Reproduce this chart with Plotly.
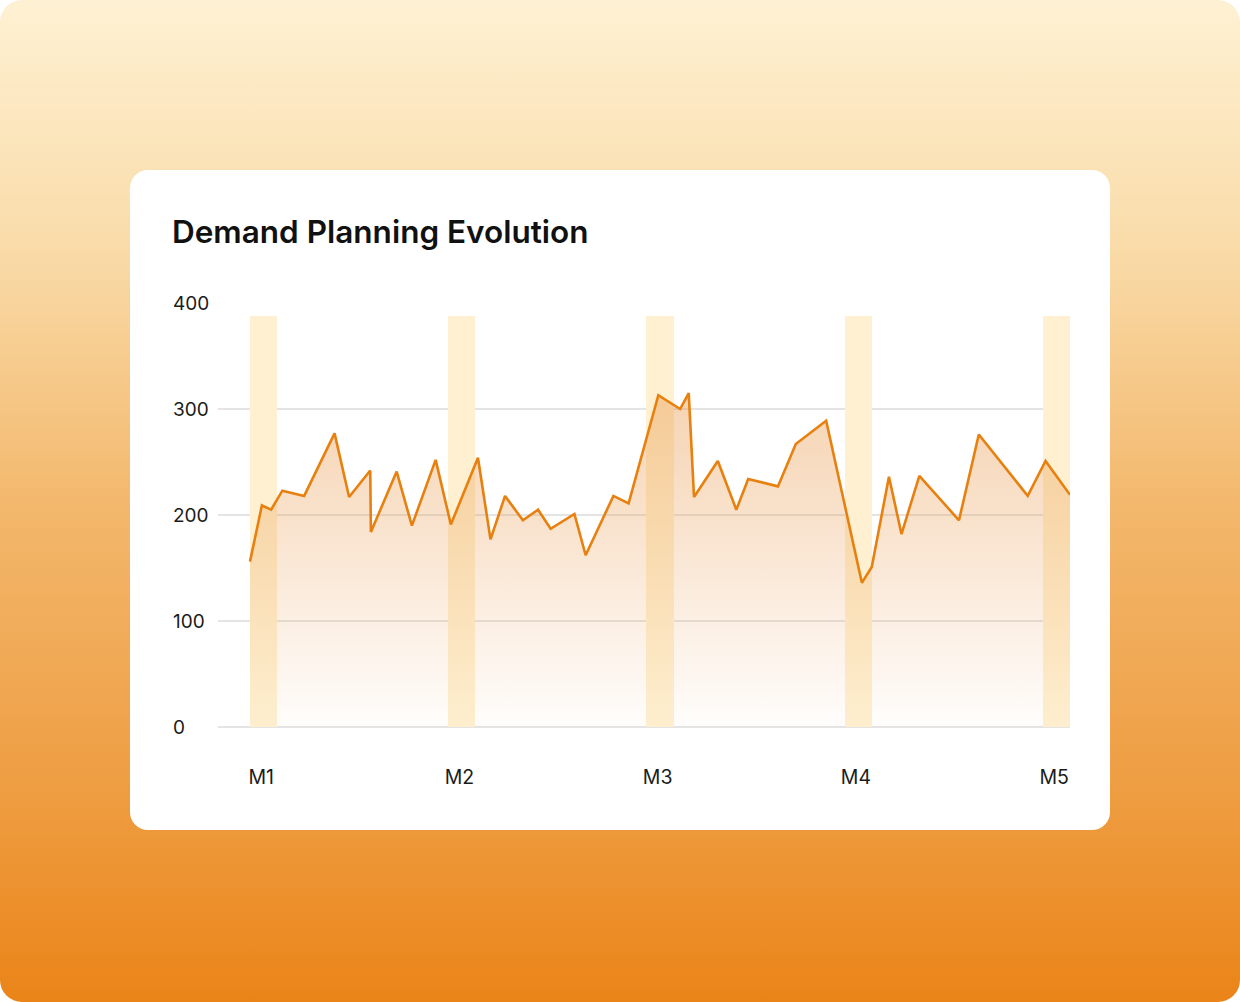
import base64
import plotly.graph_objects as go

# ---- data ----
day = [0, 1.8, 3.2, 4.9, 8.2, 12.8, 15.0, 18.2, 18.3, 22.2, 24.5, 28.1, 30.4,
       34.5, 36.4, 38.6, 41.3, 43.6, 45.5, 49.1, 50.8, 55.0, 57.3, 61.8, 65.1,
       66.4, 67.2, 70.8, 73.6, 75.4, 79.9, 82.6, 87.2, 92.6, 94.1, 96.7, 98.6,
       101.3, 107.3, 110.3, 117.7, 120.4, 124.1]
demand = [156, 209, 205, 223, 218, 277, 217, 242, 184, 241, 190, 252, 191,
          254, 177, 218, 195, 205, 187, 201, 162, 218, 211, 313, 300,
          315, 217, 251, 205, 234, 227, 267, 289, 136, 151, 236, 182,
          237, 195, 276, 218, 251, 219]
month_labels = ["M1", "M2", "M3", "M4", "M5"]
month_start = [0, 30, 60, 90, 120]
band_height = [388, 388, 388, 388, 388]
y_ticks = [0, 100, 200, 300, 400]

W, H = 1240, 1002
L, R, T, B = 218, 170, 303, 275
PW, PH = W - L - R, H - T - B

# ---- background (gradient page + white card) ----
svg = f'''<svg xmlns="http://www.w3.org/2000/svg" width="{W}" height="{H}" viewBox="0 0 {W} {H}" preserveAspectRatio="none">
<defs><linearGradient id="g" x1="0" y1="0" x2="0" y2="1">
<stop offset="0" stop-color="#FEF1D3"/>
<stop offset="0.25" stop-color="#F9DBA8"/>
<stop offset="0.5" stop-color="#F3B86D"/>
<stop offset="0.8" stop-color="#EE9C40"/>
<stop offset="1" stop-color="#EA8418"/>
</linearGradient></defs>
<rect x="0" y="0" width="{W}" height="{H}" rx="22" ry="22" fill="url(#g)"/>
<rect x="130" y="170" width="980" height="660" rx="18" ry="18" fill="#FFFFFF"/>
</svg>'''
src = "data:image/svg+xml;base64," + base64.b64encode(svg.encode()).decode()

fig = go.Figure()

fig.add_trace(go.Bar(
    x=month_start, y=band_height, width=4.1, offset=0,
    marker=dict(color="#FEF0D1", line=dict(width=0)),
    hoverinfo="skip", showlegend=False,
))

fig.add_trace(go.Scatter(
    x=day, y=demand, mode="lines",
    line=dict(color="#E8800F", width=2.6),
    fill="tozeroy",
    fillgradient=dict(type="vertical", start=0, stop=320,
                      colorscale=[[0, "rgba(232,150,70,0.02)"],
                                  [0.6, "rgba(232,150,70,0.27)"],
                                  [1, "rgba(232,150,70,0.42)"]]),
    cliponaxis=False, hoverinfo="skip", showlegend=False,
))

annotations = [dict(
    text=str(v), x=(171 - L) / PW, xref="paper", y=v, yref="y",
    xanchor="left", yanchor="middle", showarrow=False,
    font=dict(family="Inter", size=19, color="#1B1B1B"),
) for v in y_ticks]

annotations.append(dict(
    text="Demand Planning Evolution", x=(170 - L) / PW, xref="paper",
    y=1 + (T - 231) / PH, yref="paper", xanchor="left", yanchor="middle",
    showarrow=False,
    font=dict(family="Inter", size=31.5, color="#111111", weight=600),
))

fig.update_layout(
    width=W, height=H,
    margin=dict(l=L, r=R, t=T, b=B, pad=0),
    paper_bgcolor="#FFFFFF", plot_bgcolor="rgba(0,0,0,0)",
    bargap=0,
    images=[dict(source=src, xref="paper", yref="paper",
                 x=-L / PW, y=1 + T / PH, sizex=W / PW, sizey=H / PH,
                 xanchor="left", yanchor="top", sizing="stretch",
                 layer="below")],
    xaxis=dict(range=[-4.84, 124.1], showgrid=False, zeroline=False,
               showline=False, ticks="",
               tickvals=[m + 1.7 for m in month_start], ticktext=month_labels,
               ticklabelstandoff=36,
               tickfont=dict(family="Inter", size=19.5, color="#1B1B1B"),
               fixedrange=True),
    yaxis=dict(range=[0, 400], tickvals=y_ticks, showticklabels=False,
               showgrid=True, gridcolor="#E4E4E4", gridwidth=1.5,
               zeroline=True, zerolinecolor="#E4E4E4", zerolinewidth=1.5,
               showline=False, ticks="", fixedrange=True),
    annotations=annotations,
    showlegend=False,
)

fig.write_html("out.html", config={"displayModeBar": False},
               post_script="document.body.style.margin='0';document.body.style.overflow='hidden';")
